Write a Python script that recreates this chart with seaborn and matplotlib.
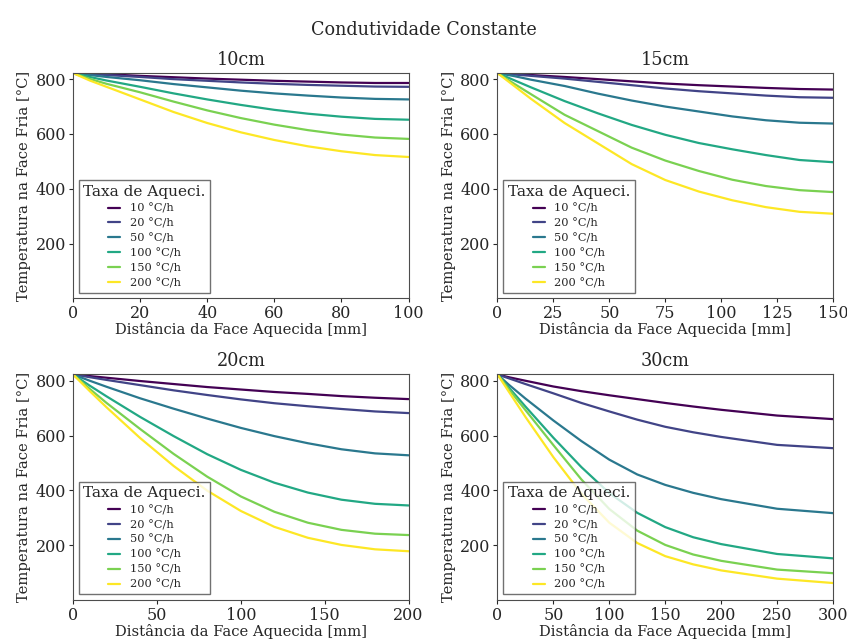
import numpy as np
import pandas as pd
import seaborn as sns
import matplotlib.pyplot as plt

# heating rates (°C/h)
rates = [10, 20, 50, 100, 150, 200]
rate_labels = [f"{r} °C/h" for r in rates]
thickness = ["10cm", "15cm", "20cm", "30cm"]

# distance from heated face (mm) for each thickness
x_10cm = [0, 5, 10, 20, 30, 40, 50, 60, 70, 80, 90, 100]
x_15cm = [0, 7.5, 15, 30, 45, 60, 75, 90, 105, 120, 135, 150]
x_20cm = [0, 10, 20, 40, 60, 80, 100, 120, 140, 160, 180, 200]
x_30cm = [0, 10, 25, 50, 75, 100, 125, 150, 175, 200, 250, 300]

# cold face temperature (°C), one row per heating rate
t_10cm = [
    [822, 820, 818, 812, 807, 802, 798, 794, 791, 788, 786, 786],
    [822, 819, 815, 808, 800, 794, 788, 783, 779, 776, 773, 772],
    [822, 815, 808, 796, 782, 770, 758, 748, 740, 733, 728, 726],
    [822, 808, 795, 772, 748, 726, 706, 688, 674, 663, 655, 652],
    [822, 801, 783, 752, 718, 686, 658, 634, 614, 598, 587, 582],
    [822, 795, 772, 726, 680, 640, 606, 578, 555, 537, 523, 516],
]
t_15cm = [
    [822, 819, 815, 808, 800, 792, 784, 778, 773, 768, 764, 762],
    [822, 817, 812, 802, 790, 778, 766, 756, 748, 740, 734, 732],
    [822, 811, 798, 775, 747, 722, 700, 682, 664, 650, 641, 638],
    [822, 796, 770, 720, 675, 633, 597, 567, 544, 523, 505, 497],
    [822, 783, 745, 670, 610, 550, 503, 465, 433, 410, 395, 388],
    [822, 775, 728, 640, 565, 490, 432, 390, 358, 333, 316, 309],
]
t_20cm = [
    [823, 817, 811, 799, 788, 777, 768, 759, 752, 744, 738, 733],
    [823, 813, 803, 784, 765, 748, 732, 718, 707, 697, 688, 682],
    [823, 800, 778, 736, 698, 662, 628, 598, 572, 550, 535, 528],
    [823, 782, 743, 668, 598, 532, 475, 428, 392, 366, 351, 345],
    [823, 770, 719, 624, 533, 450, 378, 322, 282, 256, 242, 237],
    [823, 762, 703, 591, 489, 399, 325, 267, 227, 201, 185, 178],
]
t_30cm = [
    [823, 813, 800, 779, 762, 747, 733, 719, 706, 694, 673, 660],
    [823, 809, 788, 754, 719, 688, 658, 632, 612, 595, 566, 554],
    [823, 786, 735, 655, 580, 512, 458, 420, 391, 368, 333, 317],
    [823, 776, 706, 592, 485, 390, 318, 266, 229, 204, 168, 152],
    [823, 770, 693, 565, 440, 332, 253, 201, 166, 143, 111, 98],
    [823, 761, 668, 521, 388, 282, 208, 160, 130, 108, 78, 62],
]

xs = [x_10cm, x_15cm, x_20cm, x_30cm]
temps = [t_10cm, t_15cm, t_20cm, t_30cm]

sns.set_style("ticks")
plt.rcParams['font.family'] = ['DejaVu Serif']
plt.rcParams['axes.edgecolor'] = '0.3'
plt.rcParams['xtick.labelsize'] = 11.5
plt.rcParams['ytick.labelsize'] = 11.5
plt.rcParams['xtick.major.size'] = 3
plt.rcParams['ytick.major.size'] = 3
plt.rcParams['xtick.major.pad'] = 2
plt.rcParams['ytick.major.pad'] = 2

colors = plt.cm.viridis(np.linspace(0, 1, len(rates)))

fig, axes = plt.subplots(2, 2, figsize=(8.47, 6.39), dpi=100)
fig.subplots_adjust(left=0.0862, right=0.9835, top=0.886, bottom=0.061,
                    wspace=0.265, hspace=0.337)

for ax, name, x, t in zip(axes.flat, thickness, xs, temps):
    rows = []
    for label, vals in zip(rate_labels, t):
        for xi, vi in zip(x, vals):
            rows.append((xi, vi, label))
    df = pd.DataFrame(rows, columns=["x", "T", "rate"])
    sns.lineplot(data=df, x="x", y="T", hue="rate", hue_order=rate_labels,
                 palette=list(colors), linewidth=1.6, ax=ax)
    ax.set_xlim(0, x[-1])
    ax.set_ylim(0, 823)
    ax.set_yticks([200, 400, 600, 800])
    ax.set_title(name, fontsize=12.7)
    ax.set_xlabel("Distância da Face Aquecida [mm]", fontsize=10.6, labelpad=0)
    ax.set_ylabel("Temperatura na Face Fria [°C]", fontsize=10.6, labelpad=3)
    ax.legend(title="Taxa de Aqueci.", loc="lower left", fontsize=8.2,
              title_fontsize=11.1, fancybox=False, edgecolor='0.3',
              handlelength=1.05, labelspacing=0.4)

fig.suptitle("Condutividade Constante", fontsize=12.7, y=0.967)
plt.savefig("out.png")
